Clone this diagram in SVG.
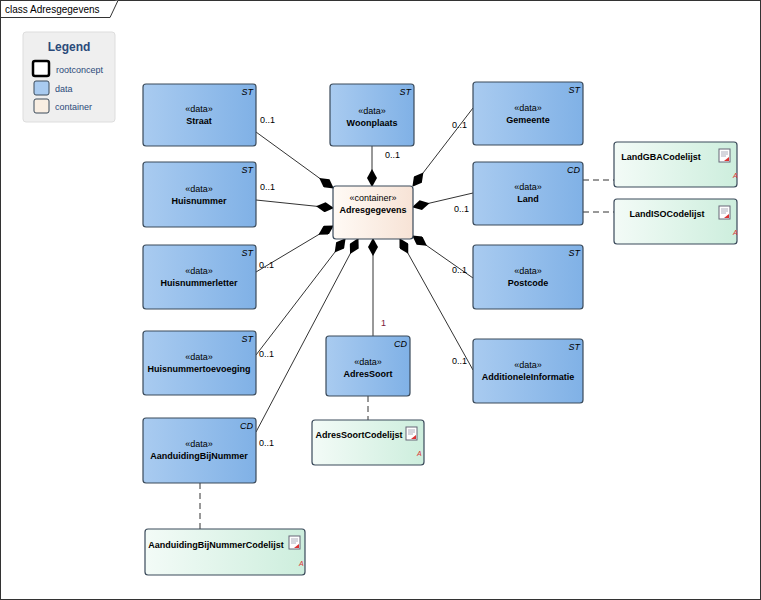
<svg xmlns="http://www.w3.org/2000/svg" width="761" height="600" viewBox="0 0 761 600">
<style>
text{font-family:"Liberation Sans",Arial,sans-serif;fill:#000}
.d{fill:url(#gb);stroke:#3a4a5a;stroke-width:1.2}
.c{fill:url(#gg);stroke:#3a4a5a;stroke-width:1.2}
.st{font-size:9px;text-anchor:middle}
.nm{font-size:9px;font-weight:bold;text-anchor:middle}
.tg{font-size:9px;font-style:italic;text-anchor:end}
.m{font-size:9px}
.ln{stroke:#333;stroke-width:1;fill:none}
.dash{stroke:#333;stroke-width:1;stroke-dasharray:6,4;fill:none}
</style>
<defs>
<linearGradient id="gb" x1="0" x2="1"><stop offset="0" stop-color="#a9cbf0"/><stop offset="1" stop-color="#80b1e6"/></linearGradient>
<linearGradient id="gg" x1="0" x2="1"><stop offset="0" stop-color="#f3fbf7"/><stop offset="1" stop-color="#cdeedd"/></linearGradient>
<linearGradient id="gc" x1="0" x2="1"><stop offset="0" stop-color="#fffaf5"/><stop offset="1" stop-color="#f7e3d6"/></linearGradient>
<marker id="dia" viewBox="0 0 18 10" refX="17" refY="5" markerWidth="18" markerHeight="10" markerUnits="userSpaceOnUse" orient="auto"><polygon points="0,5 9,0 18,5 9,10" fill="#000"/></marker>
<g id="ic"><rect x="0" y="0" width="11" height="13" fill="#fff" stroke="#667"/><path d="M2,3h7M2,5h7M2,7h5" stroke="#99a" stroke-width="0.8"/><path d="M5,12l5-4v4z" fill="#d33"/></g>
</defs>
<rect x="0.5" y="0.5" width="760" height="599" fill="#fff" stroke="#333"/>
<path d="M0.5,17.5H110L118,0.5" fill="#fff" stroke="#333"/>
<text x="5" y="13" font-size="10">class Adresgegevens</text>
<g id="legend">
<rect x="23" y="32" width="92" height="90" rx="3" fill="#efefef" stroke="#ddd"/>
<text x="69" y="51" font-size="12" font-weight="bold" fill="#2b4a7a" text-anchor="middle" style="fill:#2b4a7a">Legend</text>
<rect x="33" y="61" width="16" height="15" rx="2" fill="#fff" stroke="#000" stroke-width="2.5"/>
<text x="56" y="73" font-size="9" style="fill:#2b4a7a">rootconcept</text>
<rect x="34" y="81" width="15" height="14" rx="2" fill="#a9cbf0" stroke="#3a4a5a"/>
<text x="55" y="92" font-size="9" style="fill:#2b4a7a">data</text>
<rect x="34" y="99" width="15" height="14" rx="2" fill="#f9eee2" stroke="#3a4a5a"/>
<text x="55" y="110" font-size="9" style="fill:#2b4a7a">container</text>
</g>
<g id="connectors">
<line class="ln" x1="256" y1="132" x2="333" y2="188" marker-end="url(#dia)"/>
<line class="ln" x1="256" y1="200" x2="333" y2="208" marker-end="url(#dia)"/>
<line class="ln" x1="256" y1="272" x2="333" y2="226" marker-end="url(#dia)"/>
<line class="ln" x1="256" y1="355" x2="345" y2="239" marker-end="url(#dia)"/>
<line class="ln" x1="256" y1="432" x2="358" y2="239" marker-end="url(#dia)"/>
<line class="ln" x1="372" y1="146" x2="372" y2="186" marker-end="url(#dia)"/>
<line class="ln" x1="373" y1="336" x2="373" y2="239" marker-end="url(#dia)"/>
<line class="ln" x1="473" y1="108" x2="413" y2="186" marker-end="url(#dia)"/>
<line class="ln" x1="473" y1="193" x2="413" y2="207" marker-end="url(#dia)"/>
<line class="ln" x1="473" y1="278" x2="413" y2="236" marker-end="url(#dia)"/>
<line class="ln" x1="473" y1="370" x2="400" y2="239" marker-end="url(#dia)"/>
<line class="dash" x1="583" y1="180" x2="614" y2="180"/>
<line class="dash" x1="583" y1="212" x2="614" y2="212"/>
<line class="dash" x1="368" y1="396" x2="368" y2="420"/>
<line class="dash" x1="200" y1="483" x2="200" y2="529"/>
<text class="m" x="260" y="123">0..1</text>
<text class="m" x="260" y="190">0..1</text>
<text class="m" x="259" y="268">0..1</text>
<text class="m" x="259" y="357">0..1</text>
<text class="m" x="259" y="446">0..1</text>
<text class="m" x="385" y="158">0..1</text>
<text class="m" x="381" y="326" style="fill:#7a1a3a">1</text>
<text class="m" x="452" y="128">0..1</text>
<text class="m" x="454" y="212">0..1</text>
<text class="m" x="452" y="273">0..1</text>
<text class="m" x="452" y="364">0..1</text>
</g>
<g id="Adresgegevens"><rect x="333" y="186" width="80" height="53" rx="3" fill="url(#gc)" stroke="#3a4a5a" stroke-width="1.2"/><text class="st" x="373" y="201">«container»</text><text class="nm" x="373" y="213">Adresgegevens</text></g>
<g id="Straat"><rect class="d" x="143" y="84" width="113" height="62" rx="3"/><text class="tg" x="253" y="95">ST</text><text class="st" x="199" y="112">«data»</text><text class="nm" x="199" y="124">Straat</text></g>
<g id="Woonplaats"><rect class="d" x="330" y="84" width="84" height="62" rx="3"/><text class="tg" x="411" y="95">ST</text><text class="st" x="372" y="114">«data»</text><text class="nm" x="372" y="126">Woonplaats</text></g>
<g id="Gemeente"><rect class="d" x="473" y="82" width="110" height="63" rx="3"/><text class="tg" x="580" y="93">ST</text><text class="st" x="528" y="111">«data»</text><text class="nm" x="528" y="123">Gemeente</text></g>
<g id="Huisnummer"><rect class="d" x="143" y="162" width="113" height="65" rx="3"/><text class="tg" x="253" y="173">ST</text><text class="st" x="199" y="192">«data»</text><text class="nm" x="199" y="204">Huisnummer</text></g>
<g id="Land"><rect class="d" x="473" y="162" width="110" height="63" rx="3"/><text class="tg" x="580" y="173">CD</text><text class="st" x="528" y="190">«data»</text><text class="nm" x="528" y="202">Land</text></g>
<g id="Huisnummerletter"><rect class="d" x="143" y="245" width="113" height="64" rx="3"/><text class="tg" x="253" y="256">ST</text><text class="st" x="199" y="274">«data»</text><text class="nm" x="199" y="286">Huisnummerletter</text></g>
<g id="Postcode"><rect class="d" x="473" y="245" width="110" height="64" rx="3"/><text class="tg" x="580" y="256">ST</text><text class="st" x="528" y="274">«data»</text><text class="nm" x="528" y="286">Postcode</text></g>
<g id="Huisnummertoevoeging"><rect class="d" x="143" y="331" width="113" height="64" rx="3"/><text class="tg" x="253" y="342">ST</text><text class="st" x="199" y="360">«data»</text><text class="nm" x="199" y="372">Huisnummertoevoeging</text></g>
<g id="AdresSoort"><rect class="d" x="326" y="336" width="84" height="60" rx="3"/><text class="tg" x="407" y="347">CD</text><text class="st" x="368" y="365">«data»</text><text class="nm" x="368" y="377">AdresSoort</text></g>
<g id="AdditioneleInformatie"><rect class="d" x="473" y="339" width="110" height="64" rx="3"/><text class="tg" x="580" y="350">ST</text><text class="st" x="528" y="368">«data»</text><text class="nm" x="528" y="380">AdditioneleInformatie</text></g>
<g id="AanduidingBijNummer"><rect class="d" x="143" y="418" width="113" height="65" rx="3"/><text class="tg" x="253" y="429">CD</text><text class="st" x="199" y="447">«data»</text><text class="nm" x="199" y="459">AanduidingBijNummer</text></g>
<g id="LandGBACodelijst"><rect class="c" x="614" y="142" width="123" height="45" rx="3"/><text class="nm" x="661" y="160">LandGBACodelijst</text><use href="#ic" x="719" y="149"/><text x="733" y="178" font-size="7" style="fill:#d33" font-style="italic">A</text></g>
<g id="LandISOCodelijst"><rect class="c" x="614" y="199" width="123" height="45" rx="3"/><text class="nm" x="667" y="217">LandISOCodelijst</text><use href="#ic" x="719" y="206"/><text x="733" y="235" font-size="7" style="fill:#d33" font-style="italic">A</text></g>
<g id="AdresSoortCodelijst"><rect class="c" x="312" y="420" width="112" height="45" rx="3"/><text class="nm" x="359" y="438">AdresSoortCodelijst</text><use href="#ic" x="406" y="427"/><text x="417" y="456" font-size="7" style="fill:#d33" font-style="italic">A</text></g>
<g id="AanduidingBijNummerCodelijst"><rect class="c" x="145" y="529" width="160" height="46" rx="3"/><text class="nm" x="216" y="548">AanduidingBijNummerCodelijst</text><use href="#ic" x="289" y="536"/><text x="299" y="566" font-size="7" style="fill:#d33" font-style="italic">A</text></g>
</svg>
